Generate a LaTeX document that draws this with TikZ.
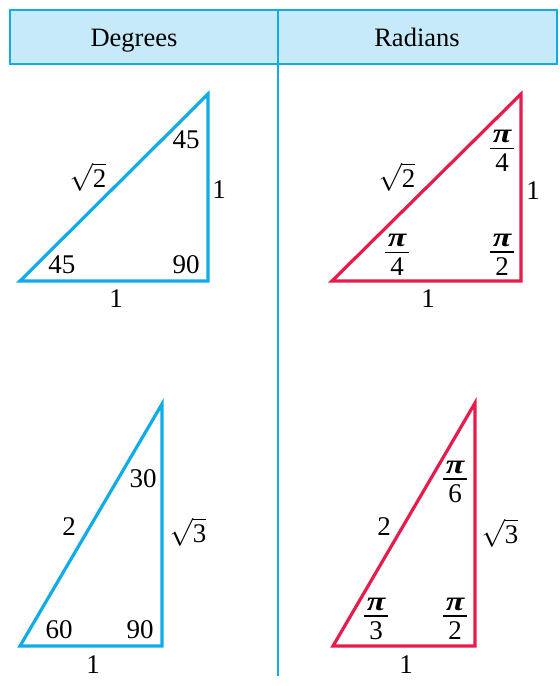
\documentclass[tikz,border=0pt]{standalone}
\usepackage{graphicx}
\usepackage{fontspec}
\setmainfont{Liberation Serif}
\definecolor{cyanline}{RGB}{16,172,232}
\definecolor{headfill}{RGB}{199,234,250}
\definecolor{redline}{RGB}{230,28,76}
\newcommand{\myfrac}[2]{\vbox{\halign{\hfil\kern2.5pt##\kern2.5pt\hfil\cr
  \scalebox{1.25}[1]{\bfseries\itshape #1}\cr
  \noalign{\kern4.5pt\hrule height 1.3pt\kern5pt}
  #2\cr}}}
\newcommand{\myroot}[1]{\scalebox{2.8}{\fontsize{9.6}{12}\selectfont$\sqrt{\mbox{#1}}$}}
\begin{document}
\begin{tikzpicture}[x=1pt,y=-1pt,
  lbl/.style={inner sep=0pt,font=\fontsize{27}{32}\selectfont},
  frl/.style={inner sep=0pt,font=\fontsize{27}{32}\selectfont},
  hdr/.style={inner sep=0pt,anchor=base,font=\fontsize{26.5}{31}\selectfont},
  bluetri/.style={draw=cyanline,line width=3.2pt,line join=miter},
  redtri/.style={draw=redline,line width=3.2pt,line join=miter}]
\useasboundingbox (0,0) rectangle (560,686);
% header
\fill[headfill] (10,10) rectangle (557,64);
\draw[cyanline,line width=1.8pt] (10,10) rectangle (557,64);
\coordinate (dtop) at (278,10);
\coordinate (dbot) at (278,676);
\draw[cyanline,line width=1.4pt] (dtop) -- (dbot);
\node[hdr] (hdeg) at (134,46) {Degrees};
\node[hdr] (hrad) at (417,46) {Radians};
% triangle 1
\coordinate (a1) at (20,281);
\coordinate (b1) at (208,281);
\coordinate (c1) at (208,94);
\draw[bluetri] (a1) -- (b1) -- (c1) -- cycle;
\node[lbl] (t1a) at (186,140) {45};
\node[lbl] (t1h) at (88,177) {\myroot{2}};
\node[lbl] (t1r) at (219,190) {1};
\node[lbl] (t1b) at (62,265) {45};
\node[lbl] (t1c) at (186,265) {90};
\node[lbl] (t1d) at (116,299) {1};
% triangle 2
\coordinate (a2) at (332,281);
\coordinate (b2) at (521,281);
\coordinate (c2) at (521,94);
\draw[redtri] (a2) -- (b2) -- (c2) -- cycle;
\node[frl] (t2a) at (502,151) {\myfrac{π}{4}};
\node[lbl] (t2h) at (397,177) {\myroot{2}};
\node[lbl] (t2r) at (533,191) {1};
\node[frl] (t2b) at (397,255) {\myfrac{π}{4}};
\node[frl] (t2c) at (502,255) {\myfrac{π}{2}};
\node[lbl] (t2d) at (428,299) {1};
% triangle 3
\coordinate (a3) at (20,646);
\coordinate (b3) at (162,646);
\coordinate (c3) at (162,404);
\draw[bluetri] (a3) -- (b3) -- (c3) -- cycle;
\node[lbl] (t3a) at (143,479) {30};
\node[lbl] (t3h) at (69,527) {2};
\node[lbl] (t3r) at (188,532) {\myroot{3}};
\node[lbl] (t3b) at (59,630) {60};
\node[lbl] (t3c) at (140,630) {90};
\node[lbl] (t3d) at (93,665) {1};
% triangle 4
\coordinate (a4) at (333,646);
\coordinate (b4) at (475,646);
\coordinate (c4) at (475,403);
\draw[redtri] (a4) -- (b4) -- (c4) -- cycle;
\node[frl] (t4a) at (455,482) {\myfrac{π}{6}};
\node[lbl] (t4h) at (384,527) {2};
\node[lbl] (t4r) at (500,533) {\myroot{3}};
\node[frl] (t4b) at (376,619) {\myfrac{π}{3}};
\node[frl] (t4c) at (455,619) {\myfrac{π}{2}};
\node[lbl] (t4d) at (406,665) {1};
\end{tikzpicture}
\end{document}
